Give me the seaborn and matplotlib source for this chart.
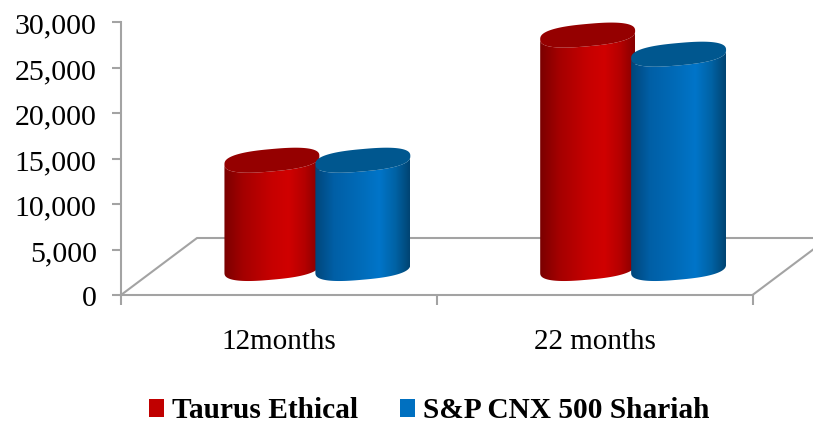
import numpy as np
import pandas as pd
import matplotlib
matplotlib.use("Agg")
import matplotlib.pyplot as plt
import seaborn as sns
from matplotlib.colors import LinearSegmentedColormap
from matplotlib.patches import Patch, Polygon
from matplotlib.ticker import FixedLocator, FuncFormatter, NullFormatter
from matplotlib.transforms import ScaledTranslation

periods = ["12months", "22 months"]
taurus_ethical = [11900, 25650]
sp_cnx_shariah = [11900, 23550]
series_names = ["Taurus Ethical", "S&P CNX 500 Shariah"]
value_ticks = [0, 5000, 10000, 15000, 20000, 25000, 30000]

series_colors = ["#C00000", "#0070C0"]
cap_colors = ["#950000", "#00578F"]
shades = [
    ["#7a0000", "#a40000", "#c60000", "#d00000", "#b40000", "#860000"],
    ["#00467a", "#005fa6", "#006cba", "#0075c9", "#0062a4", "#004472"],
]
shade_stops = [0.0, 0.2, 0.5, 0.68, 0.85, 1.0]
line_gray = "#A3A3A3"

sns.set_theme(style="white")
plt.rcParams["font.family"] = ["Liberation Serif", "DejaVu Serif"]

df = pd.DataFrame({
    "period": periods * 2,
    "series": np.repeat(series_names, len(periods)),
    "value": taurus_ethical + sp_cnx_shariah,
})

W, H = 813, 425
fig = plt.figure(figsize=(W / 100, H / 100), dpi=100)
ax = fig.add_axes([121 / W, (H - 295) / H, (752.5 - 121) / W, 273 / H])

sns.barplot(data=df, x="period", y="value", hue="series", hue_order=series_names,
            palette=series_colors, width=0.576, gap=0, dodge=True, legend=False, ax=ax)
ax.set_xlim(-0.5, 1.5)
ax.set_ylim(0, 30000)

# Pixel-to-data scales for the oblique projection of the floor
px_x = 2.0 / (752.5 - 121)
px_y = 30000 / 273
depth_x, depth_y = 76 * px_x, 57 * px_y
mid_x, mid_y = 38.5 * px_x, 26.5 * px_y

# Floor outline
ax.add_line(plt.Line2D([-0.5, -0.5 + depth_x, 1.5 + depth_x, 1.5],
                       [0, depth_y, depth_y, 0],
                       color=line_gray, lw=1.5, clip_on=False, zorder=1))

radius_scale = 95 / 91
tilt_px, minor_px = 4.2, 11.2


def rim(cx, cy, a, t):
    # Slightly squared, sheared ellipse for the cylinder ends
    c, s = np.cos(t), np.sin(t)
    cp = np.sign(c) * np.abs(c) ** 0.78
    sp = np.sign(s) * np.abs(s) ** 0.78
    return np.column_stack([cx + a * cp, cy + (tilt_px * cp + minor_px * sp) * px_y])


# Each flat bar gives the position and height of a shaded cylinder
z = 3
for group in zip(*[c.patches for c in ax.containers]):
    for s, bar in enumerate(group):
        cx = bar.get_x() + bar.get_width() / 2 + mid_x
        a = bar.get_width() / 2 * radius_scale
        y0 = mid_y
        y1 = mid_y + bar.get_height()
        base = rim(cx, y0, a, np.linspace(np.pi, 2 * np.pi, 80))
        top = rim(cx, y1, a, np.linspace(2 * np.pi, np.pi, 80))
        body = Polygon(np.vstack([base, top]), closed=True, transform=ax.transData,
                       facecolor="none", edgecolor="none", clip_on=False)
        ax.add_patch(body)
        cmap = LinearSegmentedColormap.from_list(f"shade{s}", list(zip(shade_stops, shades[s])))
        img = ax.imshow(np.linspace(0, 1, 256)[None, :], cmap=cmap, aspect="auto",
                        extent=[cx - a, cx + a, y0 - 20 * px_y, y1 + 20 * px_y],
                        zorder=z, interpolation="bilinear")
        img.set_clip_path(body)
        cap = Polygon(rim(cx, y1, a, np.linspace(0, 2 * np.pi, 200)), closed=True,
                      facecolor=cap_colors[s], edgecolor="none", zorder=z + 0.5, clip_on=False)
        ax.add_patch(cap)
        bar.set_visible(False)
        z += 1

ax.set_xlim(-0.5, 1.5)
ax.set_ylim(0, 30000)

# Axes styling
for side in ["top", "right"]:
    ax.spines[side].set_visible(False)
for side in ["left", "bottom"]:
    ax.spines[side].set_color(line_gray)
    ax.spines[side].set_linewidth(1.5)
ax.patch.set_alpha(0)
ax.set_xlabel("")
ax.set_ylabel("")

ax.set_yticks(value_ticks)
ax.yaxis.set_major_formatter(FuncFormatter(lambda v, _: f"{int(v):,}"))
ax.tick_params(axis="y", left=True, length=6.5, width=1.5, color=line_gray,
               labelsize=21.5, labelcolor="black", pad=11)
nudge = ScaledTranslation(0, -1.5 / 100, fig.dpi_scale_trans)
for label in ax.get_yticklabels():
    label.set_transform(label.get_transform() + nudge)

ax.xaxis.set_major_locator(FixedLocator([-0.5, 0.5, 1.5]))
ax.xaxis.set_major_formatter(NullFormatter())
ax.xaxis.set_minor_locator(FixedLocator([0, 1]))
ax.xaxis.set_minor_formatter(FuncFormatter(lambda v, _: periods[int(round(v))]))
ax.tick_params(axis="x", which="major", bottom=True, length=7, width=1.5, color=line_gray)
ax.tick_params(axis="x", which="minor", bottom=False, length=0, labelsize=21,
               labelcolor="black", pad=24.7)

handles = [Patch(facecolor=c, edgecolor="none", label=n) for c, n in zip(series_colors, series_names)]
fig.legend(handles=handles, ncols=2, loc="lower left", bbox_to_anchor=(149 / W, 0.5 / H),
           frameon=False, borderpad=0, borderaxespad=0, handlelength=0.52, handleheight=0.52,
           handletextpad=0.26, columnspacing=1.42, labelcolor="black",
           prop={"size": 21.2, "weight": "bold"})

fig.savefig("out.png", dpi=100, facecolor="white")
